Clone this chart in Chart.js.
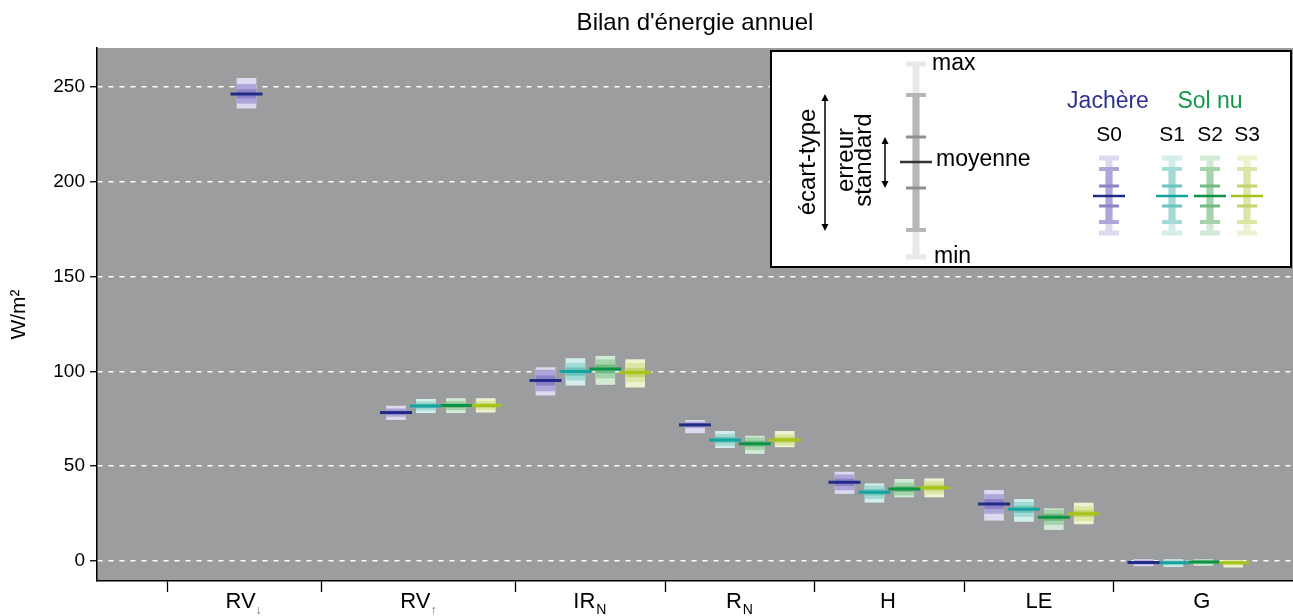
<!DOCTYPE html>
<html lang="fr">
<head>
<meta charset="utf-8">
<title>Bilan d'énergie annuel</title>
<script src="https://cdn.jsdelivr.net/npm/chart.js@4.4.1/dist/chart.umd.min.js"></script>
<style>
  html, body { margin: 0; padding: 0; background: #fff; }
  #wrap { width: 1293px; height: 616px; position: relative; }
</style>
</head>
<body>
<div id="wrap"><canvas id="bilan"></canvas></div>
<script>
// Categories and their axis labels (main text + subscript)
const categories = ['RV↓', 'RV↑', 'IRN', 'RN', 'H', 'LE', 'G'];
const labelMain = ['RV', 'RV', 'IR', 'R', 'H', 'LE', 'G'];
const labelSub = ['↓', '↑', 'N', 'N', '', '', ''];
const seriesNames = ['S0', 'S1', 'S2', 'S3'];
const yTicks = [0, 50, 100, 150, 200, 250];

// One row per station (S0 = jachère, S1..S3 = sol nu), one column per category
const moyenne = [
    [246.3, 78.3, 95.2, 71.8, 41.5, 30.1, -0.7],
    [null, 81.8, 99.9, 63.9, 36.3, 27.3, -0.9],
    [null, 82.0, 101.3, 61.9, 38.0, 23.1, -0.5],
    [null, 82.0, 99.4, 63.9, 38.7, 25.0, -0.9]
];
const ecartType = [
    [5.0, 2.0, 5.5, 1.5, 4.0, 5.0, 1.0],
    [null, 2.2, 4.5, 3.0, 3.4, 3.8, 1.2],
    [null, 2.3, 4.8, 3.2, 3.2, 3.8, 1.0],
    [null, 2.3, 4.8, 2.8, 3.3, 3.7, 1.2]
];
const erreurStd = [
    [2.2, 0.9, 2.5, 0.7, 1.8, 2.4, 0.4],
    [null, 1.0, 2.0, 1.4, 1.5, 1.7, 0.5],
    [null, 1.0, 2.1, 1.4, 1.4, 1.7, 0.4],
    [null, 1.0, 2.1, 1.3, 1.5, 1.6, 0.5]
];
const minimum = [
    [238.8, 74.6, 87.5, 67.6, 35.6, 21.5, -2.5],
    [null, 78.2, 92.7, 59.8, 31.0, 20.9, -2.9],
    [null, 78.2, 93.1, 56.7, 33.8, 16.6, -2.3],
    [null, 78.5, 91.7, 60.2, 33.8, 19.6, -3.2]
];
const maximum = [
    [254.5, 81.7, 102.0, 74.2, 46.9, 37.3, 0.8],
    [null, 85.3, 106.8, 68.4, 40.8, 32.5, 0.8],
    [null, 85.7, 108.0, 65.9, 43.1, 27.6, 0.8],
    [null, 85.7, 106.2, 68.4, 43.4, 30.6, 0.4]
];

// Layout of the x axis (in category units)
const OFFSETS = [0, 0.2, 0.4, 0.6];
const separators = [-0.53, 0.5, 1.8, 2.8, 3.8, 4.8, 5.8];
const labelPos = [-0.04, 1.13, 2.26, 3.26, 4.29, 5.3, 6.39];

const FONT = '"Liberation Sans", Arial, sans-serif';
const colLight = ['#dddaf0', '#d3edea', '#d2e9d5', '#edf3cf'];
const colSd = ['#aea5d8', '#a4dad5', '#a5d3ac', '#dbe6a5'];
const colSe = ['#8d82c6', '#6dc4be', '#72ba80', '#c2d46b'];
const colMean = ['#222a87', '#16a39d', '#0b9446', '#a4c419'];

const datasets = [];
seriesNames.forEach((name, j) => {
    const pts = f => categories
        .map((c, i) => moyenne[j][i] == null ? null : { x: i + OFFSETS[j], y: f(i) })
        .filter(Boolean);
    const bar = { type: 'bar', barThickness: 19, grouped: false, borderWidth: 0 };
    datasets.push({
        type: 'scatter', label: name + ' moyenne',
        data: pts(i => moyenne[j][i]),
        pointStyle: 'line', pointRadius: 16, pointBorderWidth: 3,
        borderColor: colMean[j], pointBorderColor: colMean[j], order: 0
    });
    datasets.push({ ...bar, label: name + ' erreur standard', order: 1, backgroundColor: colSe[j],
        data: pts(i => [moyenne[j][i] - erreurStd[j][i], moyenne[j][i] + erreurStd[j][i]]) });
    datasets.push({ ...bar, label: name + ' écart-type', order: 2, backgroundColor: colSd[j],
        data: pts(i => [moyenne[j][i] - ecartType[j][i], moyenne[j][i] + ecartType[j][i]]) });
    datasets.push({ ...bar, label: name + ' min-max', order: 3, backgroundColor: colLight[j],
        data: pts(i => [minimum[j][i], maximum[j][i]]) });
});

function drawGlyph(ctx, cx, y, c) {
    const capW = 20, stemW = 7;
    ctx.fillStyle = c.light;
    ctx.fillRect(cx - stemW / 2, y.max, stemW, y.min - y.max);
    ctx.fillRect(cx - capW / 2, y.max - 2.5, capW, 5);
    ctx.fillRect(cx - capW / 2, y.min - 2.5, capW, 5);
    ctx.fillStyle = c.sd;
    ctx.fillRect(cx - stemW / 2, y.sdHi, stemW, y.sdLo - y.sdHi);
    ctx.fillRect(cx - capW / 2, y.sdHi - 2, capW, 4);
    ctx.fillRect(cx - capW / 2, y.sdLo - 2, capW, 4);
    ctx.fillStyle = c.se;
    ctx.fillRect(cx - capW / 2, y.seHi - 1.5, capW, 3);
    ctx.fillRect(cx - capW / 2, y.seLo - 1.5, capW, 3);
    ctx.fillStyle = c.mean;
    ctx.fillRect(cx - 16, y.mean - 1.25, 32, 2.5);
}

function doubleArrow(ctx, x, y1, y2) {
    ctx.strokeStyle = '#000';
    ctx.fillStyle = '#000';
    ctx.lineWidth = 1.5;
    ctx.beginPath();
    ctx.moveTo(x, y1 + 3);
    ctx.lineTo(x, y2 - 3);
    ctx.stroke();
    [[y1, 1], [y2, -1]].forEach(([y, d]) => {
        ctx.beginPath();
        ctx.moveTo(x, y);
        ctx.lineTo(x - 3.5, y + d * 7);
        ctx.lineTo(x + 3.5, y + d * 7);
        ctx.closePath();
        ctx.fill();
    });
}

function drawLegend(ctx) {
    ctx.fillStyle = '#fff';
    ctx.fillRect(771, 51, 520, 216);
    ctx.strokeStyle = '#000';
    ctx.lineWidth = 2;
    ctx.strokeRect(771, 51, 520, 216);

    drawGlyph(ctx, 916, { max: 64, sdHi: 95, seHi: 137, mean: 162, seLo: 188, sdLo: 230, min: 257 },
        { light: '#e9e9e9', sd: '#b7b7b7', se: '#8f8f8f', mean: '#333' });

    ctx.fillStyle = '#000';
    ctx.font = `23px ${FONT}`;
    ctx.textAlign = 'left';
    ctx.textBaseline = 'alphabetic';
    ctx.fillText('max', 932, 70);
    ctx.fillText('min', 934, 263);
    ctx.fillText('moyenne', 936, 166);

    doubleArrow(ctx, 825, 94, 231);
    doubleArrow(ctx, 885, 137, 188);

    ctx.font = `24px ${FONT}`;
    ctx.save();
    ctx.translate(815, 162);
    ctx.rotate(-Math.PI / 2);
    ctx.textAlign = 'center';
    ctx.fillText('écart-type', 0, 0);
    ctx.restore();
    ctx.save();
    ctx.translate(853, 160);
    ctx.rotate(-Math.PI / 2);
    ctx.textAlign = 'center';
    ctx.fillText('erreur', 0, 0);
    ctx.fillText('standard', 0, 18);
    ctx.restore();

    ctx.textAlign = 'center';
    ctx.font = `23px ${FONT}`;
    ctx.fillStyle = '#2e3192';
    ctx.fillText('Jachère', 1108, 108);
    ctx.fillStyle = '#109a48';
    ctx.fillText('Sol nu', 1210, 108);

    const gx = [1109, 1172, 1210, 1247];
    ctx.font = `21px ${FONT}`;
    ctx.fillStyle = '#000';
    seriesNames.forEach((s, j) => ctx.fillText(s, gx[j], 141));
    seriesNames.forEach((s, j) => drawGlyph(ctx, gx[j],
        { max: 158, sdHi: 169, seHi: 186, mean: 196, seLo: 206, sdLo: 222, min: 233 },
        { light: colLight[j], sd: colSd[j], se: colSe[j], mean: colMean[j] }));
}

const decor = {
    id: 'decor',
    beforeDraw(chart) {
        const { ctx, chartArea: a } = chart;
        ctx.save();
        ctx.fillStyle = '#9c9d9f';
        ctx.fillRect(a.left, a.top, a.right - a.left, a.bottom - a.top);
        ctx.restore();
    },
    afterDraw(chart) {
        const { ctx, chartArea: a, scales: { x } } = chart;
        ctx.save();
        ctx.fillStyle = '#000';
        ctx.textBaseline = 'alphabetic';
        ctx.font = `24px ${FONT}`;
        ctx.textAlign = 'center';
        ctx.fillText("Bilan d'énergie annuel", (a.left + a.right) / 2, 30);

        labelMain.forEach((t, i) => {
            const px = x.getPixelForValue(labelPos[i]);
            ctx.font = `22px ${FONT}`;
            ctx.textAlign = 'center';
            ctx.fillStyle = '#000';
            ctx.fillText(t, px, 608);
            if (labelSub[i]) {
                const w = ctx.measureText(t).width;
                const arrow = labelSub[i] !== 'N';
                ctx.font = `${arrow ? 12 : 14}px ${FONT}`;
                ctx.fillStyle = arrow ? '#666' : '#000';
                ctx.textAlign = 'left';
                ctx.fillText(labelSub[i], px + w / 2 + (arrow ? 0 : 1), 614);
            }
        });

        drawLegend(ctx);
        ctx.restore();
    }
};

new Chart(document.getElementById('bilan'), {
    type: 'bar',
    data: { datasets },
    options: {
        responsive: true,
        maintainAspectRatio: false,
        animation: false,
        events: [],
        layout: { autoPadding: false, padding: { top: 48, left: 0, right: 0, bottom: 0 } },
        plugins: {
            legend: { display: false },
            tooltip: { enabled: false },
            title: { display: false }
        },
        scales: {
            x: {
                type: 'linear',
                min: -1,
                max: 7,
                offset: false,
                afterBuildTicks: s => { s.ticks = separators.map(v => ({ value: v })); },
                afterFit: s => { s.height = 35; },
                ticks: { display: false, autoSkip: false },
                grid: { display: true, offset: false, drawOnChartArea: false, drawTicks: true,
                        tickLength: 11, tickColor: '#000', tickWidth: 1.3 },
                border: { display: true, color: '#000', width: 1.5 }
            },
            y: {
                type: 'linear',
                min: -10.5,
                max: 270.5,
                afterBuildTicks: s => { s.ticks = yTicks.map(v => ({ value: v })); },
                afterFit: s => { s.width = 97; },
                ticks: { color: '#000', font: { family: FONT, size: 19 }, padding: 5 },
                grid: { color: '#ffffff', lineWidth: 1.5, tickColor: '#000', tickLength: 7, tickWidth: 1.3 },
                border: { display: true, color: '#000', width: 1.5, dash: [5, 6] },
                title: { display: true, text: 'W/m²', color: '#000',
                         font: { family: FONT, size: 21 }, padding: { top: 7 } }
            }
        }
    },
    plugins: [decor]
});
</script>
</body>
</html>
